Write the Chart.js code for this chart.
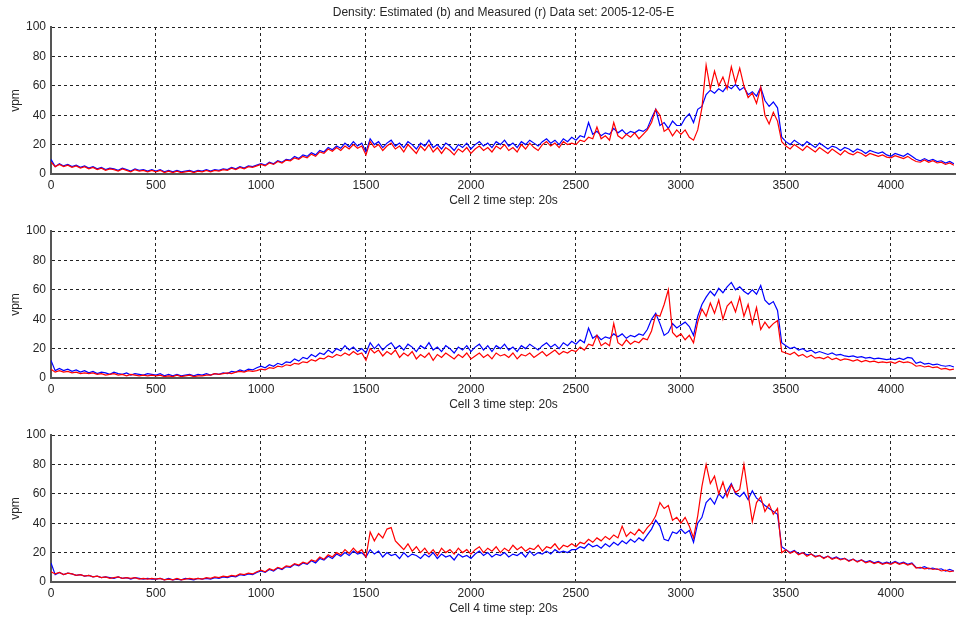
<!DOCTYPE html>
<html>
<head>
<meta charset="utf-8">
<title>Density: Estimated (b) and Measured (r)</title>
<script src="https://cdn.jsdelivr.net/npm/chart.js@4.4.1/dist/chart.umd.min.js"></script>
<style>
  html, body { margin: 0; padding: 0; background: #fff; }
  #wrap { position: relative; width: 956px; height: 622px; overflow: hidden; }
  #wrap canvas { position: absolute; left: 0; }
</style>
</head>
<body>
<div id="wrap">
  <canvas id="cell2" width="956" height="212" style="top:0px"></canvas>
  <canvas id="cell3" width="956" height="212" style="top:204px"></canvas>
  <canvas id="cell4" width="956" height="212" style="top:408px"></canvas>
</div>
<script>
// one value every 20 time steps (0 .. 4300)
const sampleStep = 20;
const xTickValues = [0, 500, 1000, 1500, 2000, 2500, 3000, 3500, 4000];
const yTickValues = [0, 20, 40, 60, 80, 100];
const chartTitle = 'Density: Estimated (b) and Measured (r) Data set: 2005-12-05-E';

const cell2Estimated = [
  10, 5, 7, 5.5, 6.5, 5, 6, 4.5, 5.5, 4, 5, 3.5, 4.5, 3, 4, 3.5, 2.5, 4, 3, 2, 3.5, 2.5, 3, 2, 3,
  2, 3, 1.5, 2.5, 1.5, 2.5, 1.5, 2, 2.5, 1.5, 2.5, 2, 3, 2, 3, 2.5, 3.5, 3, 4.5, 3.5, 5, 4, 5.5, 5, 6,
  7, 6, 8, 7, 9, 8, 10, 9.5, 12, 10.5, 13, 12, 14.5, 13, 16, 15, 18, 16.5, 19, 17.5, 21, 18.5, 22, 19, 21,
  15, 24, 20, 22, 18, 21, 23, 19, 21, 18, 22, 20, 17, 21, 19, 23, 18, 20, 17, 21, 19, 16, 20, 18, 21,
  17, 20, 22, 19, 21, 18, 22, 20, 23, 19, 21, 18, 22, 20, 23, 21, 19, 22, 24, 21, 23, 20, 24, 22, 25,
  23, 26, 25, 35, 27, 29, 26, 28, 27, 31, 28, 30, 27, 29, 28, 30, 29, 31, 38, 44, 33, 35, 31, 36, 33,
  33, 38, 41, 35, 44, 46, 54, 57, 55, 58, 56, 60, 58, 61, 57, 59, 54, 56, 53, 59, 50, 46, 49, 45, 25,
  22, 20, 23, 21, 19, 22, 20, 18, 21, 19, 17, 19, 18, 16, 18, 17, 15, 17, 16, 14, 16, 15, 14, 15, 13,
  12, 14, 13, 12, 14, 12, 10, 9, 10.5, 9, 10, 8.5, 9, 7.5, 8.5, 7
];
const cell2Measured = [
  8, 5, 6.5, 5, 6, 4.5, 5.5, 4, 5, 3.5, 4.5, 3, 4, 2.5, 3.5, 3, 2, 3.5, 2.5, 1.5, 3, 2, 2.5, 1.5, 2.5,
  1.5, 2.5, 1, 2, 1, 2, 1, 1.5, 2, 1, 2, 1.5, 2.5, 1.5, 2.5, 2, 3, 2.5, 4, 3, 4.5, 3.5, 5, 4.5, 5.5,
  6.5, 5.5, 7.5, 6.5, 8.5, 7.5, 9.5, 9, 11, 10, 12, 11, 13.5, 12, 15, 14, 17, 15.5, 18, 16, 19, 17, 20, 17.5, 19,
  13, 22, 18, 20, 16, 19, 21, 17, 19, 15, 20, 17, 14, 19, 16, 20, 15, 18, 14, 18, 16, 13, 17, 15, 18,
  14, 17, 19, 16, 18, 15, 19, 17, 20, 16, 18, 15, 20, 17, 21, 18, 16, 20, 22, 19, 21, 18, 22, 20, 21,
  20, 23, 22, 25, 24, 32, 24, 26, 23, 35, 26, 24, 27, 25, 28, 24, 27, 30, 35, 44, 40, 29, 31, 26, 30,
  27, 30, 25, 23, 30, 45, 74, 58, 70, 60, 66, 58, 73, 62, 72, 60, 52, 55, 48, 59, 40, 34, 42, 36, 22,
  19, 17, 20, 18, 16, 19, 17, 15, 18, 16, 14, 17, 15, 13, 16, 14, 13, 15, 14, 12, 14, 13, 12, 13, 11.5,
  11, 12.5, 11.5, 10.5, 12, 10, 8.5, 8, 9.5, 8, 9, 7.5, 8, 6.5, 7.5, 6
];

const cell3Estimated = [
  12, 5, 6.5, 5, 6, 4.5, 5.5, 4, 5, 3.5, 4.5, 3, 4, 3.5, 2.5, 4, 3, 2.5, 3.5, 2, 3, 2.5, 2, 3, 2.5,
  2, 3, 1.5, 2.5, 1.5, 2.5, 1.5, 2, 2.5, 1.5, 2.5, 2, 3, 2, 3, 2.5, 3.5, 3, 4.5, 4, 5.5, 4.5, 6, 5.5, 7,
  8, 7, 9, 8, 10, 9, 11, 10.5, 13, 11.5, 14, 13, 16, 14.5, 17, 16, 19, 17, 20, 18.5, 22, 19, 21, 18, 20,
  17, 24, 20, 23, 19, 22, 24, 20, 22, 19, 23, 21, 18, 22, 20, 24, 19, 21, 18, 22, 20, 17, 21, 19, 22,
  18, 21, 23, 19, 22, 18, 22, 20, 23, 19, 21, 18, 22, 20, 23, 21, 19, 22, 24, 21, 23, 20, 24, 22, 25,
  23, 26, 24, 34, 27, 29, 26, 28, 27, 30, 28, 30, 27, 29, 28, 30, 29, 33, 40, 44, 37, 29, 31, 37, 34,
  36, 38, 35, 29, 42, 50, 55, 59, 56, 61, 58, 62, 65, 60, 62, 59, 57, 60, 57, 63, 53, 50, 52, 46, 24,
  22, 20, 21, 19, 20, 18, 19, 17, 18, 17, 16, 17, 15.5, 16, 15, 14.5, 15, 14, 14.5, 13.5, 14, 13, 13.5, 13, 12.5,
  13, 12.5, 13.5, 12.5, 14, 13.5, 10, 11, 9.5, 10, 9, 9.5, 8.5, 8, 8.5, 7.5
];
const cell3Measured = [
  6, 4, 5, 4, 4.5, 3.5, 4, 3, 3.5, 3, 3.5, 2.5, 3, 2, 2.5, 3, 2, 2.5, 1.5, 2.5, 2, 1.5, 2, 1.5, 2,
  1.5, 2, 1, 1.5, 1, 2, 1, 1.5, 2, 1, 1.5, 1.5, 2, 2, 3, 2.5, 3, 3.5, 3, 4, 4.5, 4, 5, 4.5, 5,
  6, 5.5, 7, 6.5, 8, 7.5, 9, 8.5, 10, 9.5, 11, 10.5, 12.5, 11.5, 13.5, 13, 15, 14, 16, 15, 17, 15.5, 18, 16, 17,
  12, 20, 17, 19, 15, 18, 16, 19, 14, 17, 15, 18, 13, 16, 14, 17, 12, 16, 14, 17, 15, 13, 16, 14, 17,
  13, 15, 17, 14, 16, 13, 17, 15, 16, 14, 17, 13, 16, 15, 17, 14, 16, 18, 15, 17, 19, 16, 18, 17, 19,
  18, 21, 19, 23, 22, 29, 22, 24, 22, 37, 24, 22, 26, 23, 25, 24, 27, 26, 32, 43, 42, 50, 60, 31, 28,
  30, 26, 29, 24, 38, 47, 42, 51, 44, 53, 40, 49, 52, 45, 55, 42, 50, 37, 48, 33, 38, 34, 37, 39, 18,
  17, 16, 17.5, 15, 16, 14, 15.5, 13.5, 14, 13, 14.5, 12.5, 13.5, 12, 13, 12.5, 11.5, 12.5, 11, 12, 11, 11.5, 10.5, 11, 10.5,
  11, 10, 11.5, 10.5, 11, 10, 8, 8.5, 7.5, 8, 7, 7.5, 6, 6.5, 5.5, 6
];

const cell4Estimated = [
  13, 5, 6.5, 5, 6, 5.5, 4.5, 5, 4, 4.5, 3.5, 4, 3, 3.5, 3, 2.5, 3.5, 2.5, 3, 2, 3, 2.5, 2, 2.5, 2,
  2, 2.5, 1.5, 2.5, 1.5, 2, 1.5, 2.5, 2, 1.5, 2.5, 2, 2.5, 2, 3, 2.5, 3.5, 3, 4, 3.5, 5, 4.5, 5.5, 5, 6.5,
  7.5, 6.5, 8.5, 7.5, 9.5, 8.5, 10.5, 10, 12, 11, 13, 12, 14.5, 13, 16, 15, 17.5, 16, 19, 17.5, 20, 18, 21, 19, 20,
  17, 22, 19, 21, 17, 20, 18, 19, 16, 20, 17, 19, 18, 16, 19, 17, 20, 16, 19, 17, 18, 15, 19, 17, 18,
  16, 19, 21, 18, 20, 17, 19, 18, 20, 17, 19, 18, 20, 17, 21, 18, 20, 19, 21, 19, 22, 20, 21, 20, 22,
  22, 24, 23, 26, 24, 25, 23, 26, 24, 27, 25, 28, 26, 29, 27, 30, 28, 32, 36, 42, 38, 29, 28, 34, 33,
  36, 33, 35, 27, 40, 44, 54, 57, 53, 60, 57, 62, 67, 60, 58, 61, 56, 62, 57, 55, 52, 50, 48, 46, 24,
  22, 20, 21.5, 19, 20, 18.5, 19, 17.5, 18, 16.5, 17.5, 16, 17, 15.5, 16, 14.5, 15.5, 14, 15, 13.5, 14.5, 13, 14, 12.5, 13.5,
  12.5, 14, 12.5, 13.5, 12, 13, 10, 9.5, 10.5, 9, 9.5, 8.5, 9, 7.5, 8.5, 7.5
];
const cell4Measured = [
  7, 5.5, 6.5, 5, 6, 5.5, 4.5, 5, 4, 4.5, 3.5, 4, 3, 3.5, 2.5, 3, 3.5, 2.5, 3, 2.5, 3, 2, 2.5, 2, 2.5,
  2, 2.5, 1.5, 2, 1.5, 2.5, 1.5, 2, 2.5, 2, 2.5, 2, 3, 2.5, 3.5, 3, 4, 3.5, 4.5, 4, 5.5, 5, 6, 5.5, 7,
  8, 7, 9, 8, 10, 9, 11, 10.5, 12.5, 11.5, 13.5, 12.5, 15, 14, 17, 15.5, 18.5, 17, 20, 18.5, 22, 19.5, 23, 20, 22,
  17, 34, 28, 33, 30, 36, 37, 28, 25, 22, 26, 21, 24, 20, 23, 19, 22, 18, 23, 20, 22, 19, 23, 20, 22,
  19, 22, 24, 20, 23, 21, 24, 20, 23, 21, 25, 22, 24, 21, 23, 22, 25, 21, 24, 23, 26, 22, 25, 24, 26,
  24, 27, 26, 29, 27, 30, 28, 31, 29, 32, 30, 38, 31, 34, 32, 36, 33, 37, 40, 45, 54, 50, 52, 42, 44,
  40, 44, 38, 30, 45, 65, 80, 67, 72, 60, 68, 58, 66, 61, 63, 80, 60, 41, 54, 58, 48, 53, 46, 50, 20,
  22, 19.5, 21, 18.5, 20, 17.5, 19, 17, 18, 16, 17.5, 15.5, 16.5, 15, 16, 14, 15.5, 13.5, 15, 13, 14, 12.5, 13.5, 12, 13,
  12, 13.5, 12, 13, 11.5, 12.5, 9.5, 10, 9, 9.5, 8.5, 9, 7.5, 8, 7, 7.5
];

const textColor = '#262626';
const axisFont = { family: '"Liberation Sans", Arial, sans-serif', size: 12 };

function toPoints(values) {
  return values.map((v, i) => ({ x: i * sampleStep, y: v }));
}

function densityChart(id, estimated, measured, xTitle, withTitle) {
  return new Chart(document.getElementById(id), {
    type: 'line',
    data: {
      datasets: [
        { label: 'Estimated', data: toPoints(estimated), borderColor: '#0000ff', order: 1 },
        { label: 'Measured', data: toPoints(measured), borderColor: '#ff0000', order: 0 }
      ]
    },
    options: {
      responsive: false,
      animation: false,
      parsing: false,
      layout: { padding: { top: withTitle ? 0 : 27, left: 0, right: 0, bottom: 0 } },
      elements: {
        line: { borderWidth: 1.2, tension: 0 },
        point: { radius: 0 }
      },
      plugins: {
        legend: { display: false },
        tooltip: { enabled: false },
        title: {
          display: withTitle,
          text: chartTitle,
          fullSize: false,
          color: textColor,
          font: { family: axisFont.family, size: 12, weight: 'normal' },
          padding: { top: 5, bottom: 7.6 }
        }
      },
      scales: {
        x: {
          type: 'linear',
          min: 0,
          max: 4310,
          afterBuildTicks: s => { s.ticks = xTickValues.map(v => ({ value: v })); },
          afterFit: s => { s.height = 38; },
          ticks: { padding: 4, maxRotation: 0, autoSkip: false, color: textColor, font: axisFont, callback: v => String(v) },
          grid: { color: '#222', lineWidth: 1, drawTicks: false },
          border: { color: '#555', width: 2, dash: [3, 3] },
          title: { display: true, text: xTitle, color: textColor, font: axisFont, padding: { top: 0, bottom: 4 } }
        },
        y: {
          min: 0,
          max: 100,
          afterBuildTicks: s => { s.ticks = yTickValues.map(v => ({ value: v })); },
          afterFit: s => { s.width = 51; },
          ticks: { padding: 5, color: textColor, font: axisFont, callback: v => String(v) },
          grid: { color: '#222', lineWidth: 1, drawTicks: false },
          border: { color: '#555', width: 2, dash: [3, 3] },
          title: { display: true, text: 'vpm', color: textColor, font: axisFont, padding: { top: 8, bottom: 0 } }
        }
      }
    }
  });
}

densityChart('cell2', cell2Estimated, cell2Measured, 'Cell 2 time step: 20s', true);
densityChart('cell3', cell3Estimated, cell3Measured, 'Cell 3 time step: 20s', false);
densityChart('cell4', cell4Estimated, cell4Measured, 'Cell 4 time step: 20s', false);
</script>
</body>
</html>
